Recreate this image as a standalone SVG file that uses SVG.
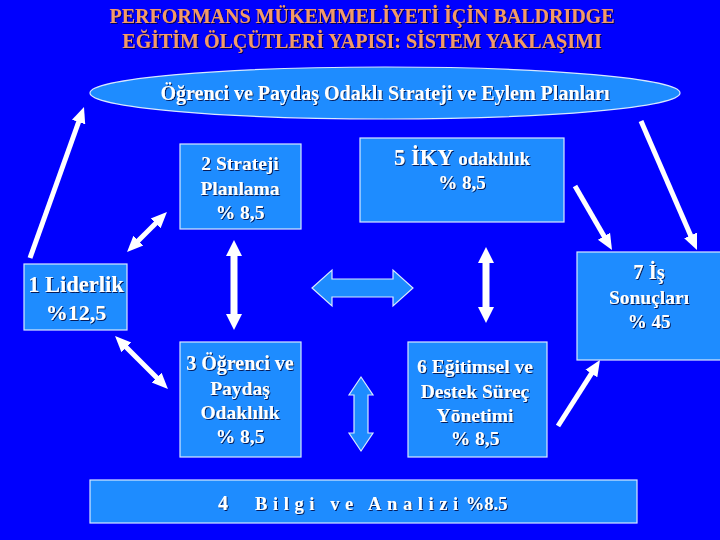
<svg xmlns="http://www.w3.org/2000/svg" width="720" height="540" viewBox="0 0 720 540">
<defs>
<style>
.box{fill:#1E8CFF;stroke:#D8E8FF;stroke-width:1.2}
.t{font-family:"Liberation Serif","Times New Roman",serif;font-weight:bold;fill:#FFFFFF;text-anchor:middle;filter:url(#sh)}
.title{font-family:"Liberation Serif","Times New Roman",serif;font-weight:bold;fill:#F29A68;text-anchor:middle;font-size:20px;filter:url(#sh)}
.ln{stroke:#FFFFFF;stroke-width:5;fill:none}
.vln{stroke:#FFFFFF;stroke-width:7;fill:none}
.blk{fill:#1E8CFF;stroke:#D8E8FF;stroke-width:1.2}
</style>
<filter id="sh" x="-5%" y="-20%" width="110%" height="140%">
<feDropShadow dx="1" dy="1" stdDeviation="0.4" flood-color="#000033" flood-opacity="0.8"/>
</filter>
<marker id="ah" markerUnits="userSpaceOnUse" viewBox="0 0 16 16" markerWidth="16" markerHeight="16" refX="8" refY="8" orient="auto-start-reverse">
<path d="M0,1 L16,8 L0,15 z" fill="#FFFFFF"/>
</marker>
<marker id="vh" markerUnits="userSpaceOnUse" viewBox="0 0 16 16" markerWidth="16" markerHeight="16" refX="7" refY="8" orient="auto-start-reverse">
<path d="M0,0 L16,8 L0,16 z" fill="#FFFFFF"/>
</marker>
</defs>
<rect x="0" y="0" width="720" height="540" fill="#0000FE"/>

<g id="title">
<text class="title" x="362" y="23">PERFORMANS MÜKEMMELİYETİ İÇİN BALDRIDGE</text>
<text class="title" x="362" y="48">EĞİTİM ÖLÇÜTLERİ YAPISI: SİSTEM YAKLAŞIMI</text>
</g>

<g id="connectors">
<line class="ln" x1="30" y1="258" x2="81.3" y2="114.5" marker-end="url(#ah)"/>
<line class="ln" x1="641" y1="121" x2="693.8" y2="242.7" marker-end="url(#ah)"/>
<line class="ln" x1="575" y1="186" x2="608" y2="243.1" marker-end="url(#ah)"/>
<line class="ln" x1="558" y1="426" x2="595.7" y2="366.8" marker-end="url(#ah)"/>
<line class="ln" x1="132.7" y1="246.3" x2="161.3" y2="217.7" marker-start="url(#ah)" marker-end="url(#ah)"/>
<line class="ln" x1="120.7" y1="341.7" x2="162.3" y2="383.3" marker-start="url(#ah)" marker-end="url(#ah)"/>
<line class="vln" x1="234" y1="249" x2="234" y2="321" marker-start="url(#vh)" marker-end="url(#vh)"/>
<line class="vln" x1="486" y1="256" x2="486" y2="314" marker-start="url(#vh)" marker-end="url(#vh)"/>
<polygon class="blk" points="312,288 332,270 332,279 393,279 393,270 413,288 393,306 393,297 332,297 332,306"/>
<polygon class="blk" points="361,377 373,395 368,395 368,433 373,433 361,451 349,433 354,433 354,395 349,395"/>
</g>

<g id="ellipse">
<ellipse cx="385" cy="93" rx="295" ry="26" class="box"/>
<text class="t" x="385" y="100" font-size="20">Öğrenci ve Paydaş Odaklı Strateji ve Eylem Planları</text>
</g>

<g id="n1">
<rect class="box" x="24" y="264" width="103" height="66"/>
<text class="t" x="76" y="292" font-size="22.5">1 Liderlik</text>
<text class="t" x="76" y="320" font-size="22">%12,5</text>
</g>

<g id="n2">
<rect class="box" x="180" y="144" width="121" height="85"/>
<text class="t" x="240" y="170" font-size="19.5">2 Strateji</text>
<text class="t" x="240" y="195" font-size="19.5">Planlama</text>
<text class="t" x="240" y="219" font-size="19.5">% 8,5</text>
</g>

<g id="n5">
<rect class="box" x="360" y="138" width="204" height="84"/>
<text class="t" x="462" y="165"><tspan font-size="22.5">5 İKY </tspan><tspan font-size="19">odaklılık</tspan></text>
<text class="t" x="462" y="189" font-size="19">% 8,5</text>
</g>

<g id="n7">
<rect class="box" x="577" y="252" width="150" height="108"/>
<text class="t" x="649" y="279" font-size="20.5">7 İş</text>
<text class="t" x="649" y="304" font-size="19.5">Sonuçları</text>
<text class="t" x="649" y="328" font-size="19">% 45</text>
</g>

<g id="n3">
<rect class="box" x="180" y="342" width="121" height="115"/>
<text class="t" x="240" y="370" font-size="20">3 Öğrenci ve</text>
<text class="t" x="240" y="395" font-size="19.5">Paydaş</text>
<text class="t" x="240" y="419" font-size="19.5">Odaklılık</text>
<text class="t" x="240" y="443" font-size="19.5">% 8,5</text>
</g>

<g id="n6">
<rect class="box" x="408" y="342" width="139" height="115"/>
<text class="t" x="475" y="373" font-size="19.5">6 Eğitimsel ve</text>
<text class="t" x="475" y="398" font-size="19.5">Destek Süreç</text>
<text class="t" x="475" y="422" font-size="19.5">Yōnetimi</text>
<text class="t" x="475" y="445" font-size="19.5">% 8,5</text>
</g>

<g id="n4">
<rect class="box" x="90" y="480" width="547" height="43"/>
<text class="t" x="223" y="510" font-size="20">4</text>
<text class="t" x="255" y="510" font-size="18.5" style="text-anchor:start"><tspan letter-spacing="5.6">Bilgi ve Analizi</tspan><tspan dx="2">%8.5</tspan></text>
</g>
</svg>
